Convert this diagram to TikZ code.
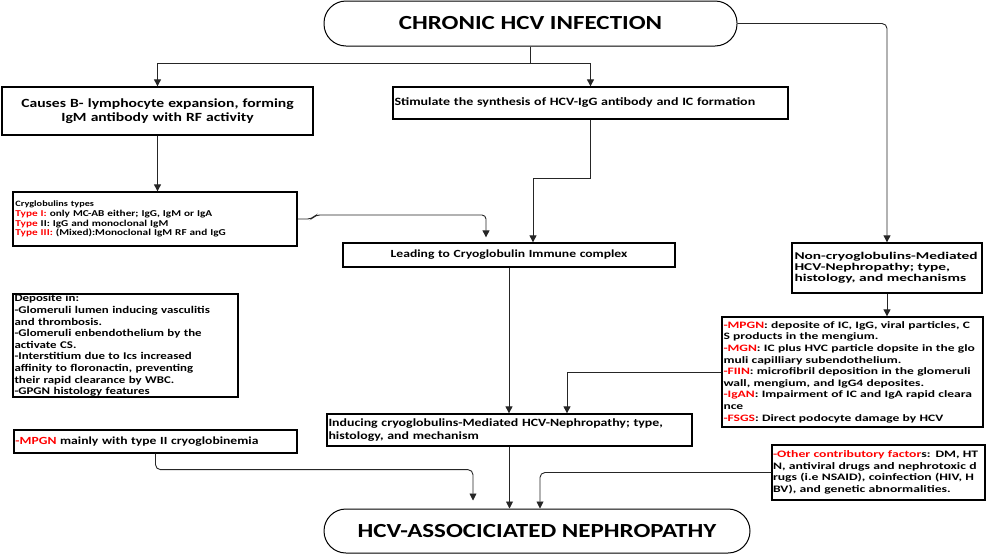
\documentclass[tikz,border=0pt]{standalone}
\usepackage{fontspec}
\setmainfont{Carlito}[FakeStretch=1.25]
\newfontfamily\wideB{Carlito}[FakeStretch=1.38]
\newfontfamily\wideC{Carlito}[FakeStretch=1.48]
\usetikzlibrary{arrows.meta,calc}
\definecolor{redtxt}{RGB}{255,0,0}
\newcommand{\rt}[1]{\textcolor{redtxt}{#1}}
\newcommand{\fs}[2]{\fontsize{#1}{#2}\selectfont}
\begin{document}
\begin{tikzpicture}[x=1pt,y=-1pt,
  box/.style={draw=black, line width=1.3pt, inner xsep=1.5pt, inner ysep=0pt},
  lbox/.style={box, align=left},
  stadium/.style={draw=black, line width=1pt, rounded corners=22pt, inner sep=0pt, font=\bfseries\fs{20}{24}},
  conn/.style={draw=black!85, line width=0.9pt},
  arr/.style={conn, -{Triangle[width=7pt,length=7pt]}}]
\useasboundingbox (0,0) rectangle (986,555);

% top and bottom terminals
\node[stadium, minimum width=413pt, minimum height=45pt] (chronic) at (530.5,23.5) {CHRONIC HCV INFECTION};
\node[stadium, minimum width=426pt, minimum height=44pt] (hcv) at (537,531) {HCV-ASSOCICIATED NEPHROPATHY};

% boxes
\node[box, minimum width=311pt, minimum height=48pt, text width=308pt, align=center, font=\bfseries\fs{12.5}{14}] (causes) at (157.5,111)
  {Causes B- lymphocyte expansion, forming\\ IgM antibody with RF activity};
\node[lbox, minimum width=395pt, minimum height=32pt, text width=392pt, font=\bfseries\fs{11.2}{13}] (stim) at (590.5,103)
  {Stimulate the synthesis of HCV-IgG antibody and IC formation};
\node[lbox, minimum width=284pt, minimum height=54pt, text width=279pt, inner xsep=2.5pt, font=\bfseries\fs{9}{9.8}] (cryo) at (155,219)
  {{\fs{8.2}{9.8}Cryglobulins types}\\
   \rt{Type I:} only MC-AB either; IgG, IgM or IgA\\
   \rt{Type} II: IgG and monoclonal IgM\\
   \rt{Type III:} (Mixed):Monoclonal IgM RF and IgG};
\node[box, minimum width=332pt, minimum height=24pt, text width=329pt, align=center, font=\bfseries\fs{10.9}{13}] (leading) at (509,255)
  {Leading to Cryoglobulin Immune complex};
\node[lbox, minimum width=225pt, minimum height=103pt, text width=222pt, font=\bfseries\fs{10.3}{11.6}] (depo) at (125.5,345.5)
  {Deposite in:\\
   -Glomeruli lumen inducing vasculitis\\
   and thrombosis.\\
   -Glomeruli enbendothelium by the\\
   activate CS.\\
   -Interstitium due to Ics increased\\
   affinity to floronactin, preventing\\
   their rapid clearance by WBC.\\
   -GPGN histology features};
\node[lbox, minimum width=190pt, minimum height=50pt, text width=185pt, inner xsep=2.5pt, font=\wideC\bfseries\fs{10.4}{11}] (noncryo) at (887,268)
  {Non-cryoglobulins-Mediated\\
   HCV-Nephropathy; type,\\
   histology, and mechanisms};
\node[lbox, minimum width=261pt, minimum height=110pt, text width=258pt, font=\wideB\bfseries\fs{9.8}{11.6}] (list) at (852.5,372)
  {\rt{-MPGN}: deposite of IC, IgG, viral particles, C\\
   S products in the mengium.\\
   \rt{-MGN}: IC plus HVC particle dopsite in the glo\\
   muli capilliary subendothelium.\\
   \rt{-FIIN}: microfibril deposition in the glomeruli\\
   wall, mengium, and IgG4 deposites.\\
   \rt{-IgAN}: Impairment of IC and IgA rapid cleara\\
   nce\\
   \rt{-FSGS}: Direct podocyte damage by HCV};
\node[lbox, minimum width=365pt, minimum height=32pt, text width=362pt, font=\bfseries\fs{11.1}{13.3}] (inducing) at (509.5,430)
  {Inducing cryoglobulins-Mediated HCV-Nephropathy; type,\\
   histology, and mechanism};
\node[lbox, minimum width=283pt, minimum height=23pt, text width=280pt, font=\bfseries\fs{10.9}{13}] (mpgn) at (155.5,441.5)
  {\rt{-MPGN} mainly with type II cryoglobinemia};
\node[lbox, minimum width=213pt, minimum height=55pt, text width=211pt, inner xsep=1pt, font=\wideB\bfseries\fs{9.9}{11.7}] (other) at (878.5,472.5)
  {\rt{-Other contributory factor}s: DM, HT\\
   N, antiviral drugs and nephrotoxic d\\
   rugs (i.e NSAID), coinfection (HIV, H\\
   BV), and genetic abnormalities.};

% connectors
\draw[arr] (chronic.south) -- ++(0,17) -| (causes.north);
\draw[arr] (chronic.south) -- ++(0,17) -| (stim.north);
\draw[arr, rounded corners=5pt] (chronic.east) -| (noncryo.north);
\draw[arr] (causes.south) -- (causes.south |- cryo.north);
\draw[arr, rounded corners=4pt, shorten >=5pt] (cryo.east) -- ++(14,0) -- ++(4,-4) -| ($(leading.north)+(-23,0)$);
\draw[arr] (stim.south) -- ++(0,59) -| ($(leading.north)+(24,0)$);
\draw[arr] (leading.south) -- (leading.south |- inducing.north);
\draw[arr] (noncryo.south) -- (noncryo.south |- list.north);
\draw[arr] (list.west) -| ($(inducing.north)+(57.5,0)$);
\draw[arr] (inducing.south) -- (inducing.south |- hcv.north);
\draw[arr, rounded corners=5pt, shorten >=8pt] (mpgn.south) -- ++(0,16) -| ($(hcv.north)+(-64,0)$);
\draw[arr, rounded corners=5pt] (other.west) -| ($(hcv.north)+(3,0)$);
\end{tikzpicture}
\end{document}
